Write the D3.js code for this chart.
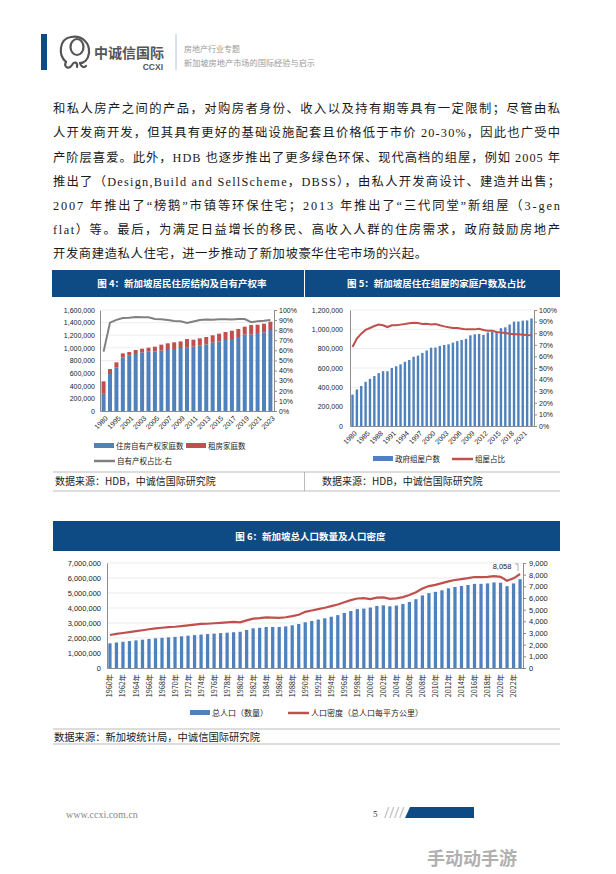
<!DOCTYPE html>
<html><head><meta charset="utf-8">
<script src="https://cdn.jsdelivr.net/npm/d3@7"></script>
<style>
html,body{margin:0;padding:0;background:#fff;}
svg{display:block;}
</style></head><body>
<svg id="page" width="616" height="874"></svg>
<script>
// ---------------- DATA ----------------
const bodyLines = [
  "和私人房产之间的产品，对购房者身份、收入以及持有期等具有一定限制；尽管由私",
  "人开发商开发，但其具有更好的基础设施配套且价格低于市价 20-30%，因此也广受中",
  "产阶层喜爱。此外，HDB 也逐步推出了更多绿色环保、现代高档的组屋，例如 2005 年",
  "推出了（Design,Build and SellScheme，DBSS），由私人开发商设计、建造并出售；",
  "2007 年推出了“榜鹅”市镇等环保住宅；2013 年推出了“三代同堂”新组屋（3-gen",
  "flat）等。最后，为满足日益增长的移民、高收入人群的住房需求，政府鼓励房地产",
  "开发商建造私人住宅，进一步推动了新加坡豪华住宅市场的兴起。"
];
const titles = ["图 4：新加坡居民住房结构及自有产权率", "图 5：新加坡居住在组屋的家庭户数及占比", "图 6：新加坡总人口数量及人口密度"];
const sources = ["数据来源：HDB，中诚信国际研究院", "数据来源：HDB，中诚信国际研究院", "数据来源：新加坡统计局，中诚信国际研究院"];

// Figure 4
const cat4 = ["1980","1990","1995","2000","2001","2002","2003","2004","2005","2006","2007","2008","2009","2010","2011","2012","2013","2014","2015","2016","2017","2018","2019","2020","2021","2022","2023"];
const owner4 = [272000,586000,686000,845000,876000,903000,929000,940000,945000,956000,966000,982000,998000,1003000,1019000,1035000,1056000,1082000,1103000,1125000,1140000,1172000,1209000,1209000,1236000,1246000,1283000];
const renter4 = [198000,79000,85000,68000,58000,63000,58000,63000,74000,95000,106000,106000,105000,137000,111000,116000,116000,117000,122000,126000,132000,127000,127000,153000,131000,137000,132000];
const ownRate4 = [58.8,87.5,90.2,92.0,92.3,93.1,92.8,92.8,91.1,90.9,90.1,89.1,88.8,87.2,88.6,90.1,90.5,90.3,90.8,90.9,90.7,91.0,91.0,87.9,88.9,89.3,90.0];
const ticksL4 = [0,200000,400000,600000,800000,1000000,1200000,1400000,1600000];
const ticksPct = [0,10,20,30,40,50,60,70,80,90,100];
const legend4 = ["住房自有产权家庭数","租房家庭数","自有产权占比-右"];

// Figure 5
const cat5 = ["1980","1982","1984","1985","1986","1987","1988","1989","1990","1991","1992","1993","1994","1995","1996","1997","1998","1999","2000","2001","2002","2003","2004","2005","2006","2007","2008","2009","2010","2011","2012","2013","2014","2015","2016","2017","2018","2019","2020","2021","2022","2023"];
const hdb5 = [325000,378000,414000,457000,488000,517000,547000,567000,567000,600000,618000,638000,664000,683000,716000,728000,756000,781000,810000,812000,828000,838000,845000,862000,878000,890000,902000,938000,949000,952000,943000,967000,974000,974000,1012000,1021000,1050000,1080000,1081000,1090000,1092000,1112000];
const share5 = [68.1,75.3,79.6,82.8,84.5,86.2,87.4,86.8,85.3,86.8,86.8,87.4,87.9,88.5,89.1,88.8,87.9,88.2,87.6,87.9,86.8,85.9,85.1,84.5,84.5,83.9,83.3,83.3,83.3,83.9,82.8,82.2,82.2,81.0,80.5,80.2,79.6,79.0,79.0,78.7,78.4,78.2];
const ticksL5 = [0,200000,400000,600000,800000,1000000,1200000];
const legend5 = ["政府组屋户数","组屋占比"];

// Figure 6
const years6 = [1960,1961,1962,1963,1964,1965,1966,1967,1968,1969,1970,1971,1972,1973,1974,1975,1976,1977,1978,1979,1980,1981,1982,1983,1984,1985,1986,1987,1988,1989,1990,1991,1992,1993,1994,1995,1996,1997,1998,1999,2000,2001,2002,2003,2004,2005,2006,2007,2008,2009,2010,2011,2012,2013,2014,2015,2016,2017,2018,2019,2020,2021,2022,2023];
const pop6 = [1646400,1702400,1750200,1795000,1841600,1886900,1934400,1977600,2012000,2042500,2074507,2112900,2152400,2193000,2229800,2262600,2293300,2325300,2353600,2383500,2413945,2532835,2646466,2681061,2732221,2735957,2733373,2774789,2846108,2930901,3047132,3135083,3230698,3313471,3419048,3524506,3670704,3796038,3927213,3958723,4027887,4138012,4175950,4114826,4166664,4265762,4401365,4588599,4839396,4987573,5076732,5183688,5312437,5399162,5469724,5535002,5607283,5612253,5638676,5703569,5685807,5453566,5637022,5917648];
const density6 = [2826,2921,3003,3080,3160,3238,3319,3393,3452,3504,3538,3597,3660,3722,3775,3791,3834,3876,3916,3945,3907,4078,4235,4273,4333,4317,4296,4350,4446,4561,4814,4926,5044,5166,5308,5443,5642,5816,5957,5983,5900,6027,6055,5931,5967,6079,6255,6496,6814,7022,7126,7273,7422,7540,7615,7697,7797,7796,7804,7866,7810,7485,7688,8058];
const tickYears6 = [1960,1962,1964,1966,1968,1970,1972,1974,1976,1978,1980,1982,1984,1986,1988,1990,1992,1994,1996,1998,2000,2002,2004,2006,2008,2010,2012,2014,2016,2018,2020,2022];
const ticksL6 = [0,1000000,2000000,3000000,4000000,5000000,6000000,7000000];
const ticksR6 = [0,1000,2000,3000,4000,5000,6000,7000,8000,9000];
const legend6 = ["总人口（数量）","人口密度（总人口每平方公里）"];

// ---------------- STYLE ----------------
const CJK = "'Noto Sans CJK SC','Noto Sans',sans-serif";
const NUM = "'Liberation Sans',Arial,sans-serif";
const BLUE = "#4f81bd", RED = "#c0504d", GRAY = "#808080", NAVY = "#0e4a84";
const svg = d3.select("#page");

// ---------------- PAGE HEADER ----------------
svg.append("rect").attr("x",41).attr("y",34).attr("width",6).attr("height",36).attr("fill",NAVY);
const logo = svg.append("g").attr("fill","none").attr("stroke","#555").attr("stroke-width",2.2).attr("stroke-linecap","round");
logo.append("path").attr("d","M66,62 C58,55 59,39 71,37 C82,35 90,43 89,53 C88,60 84,63 80,63");
logo.append("ellipse").attr("cx",77).attr("cy",47).attr("rx",6.5).attr("ry",8);
logo.append("path").attr("d","M66,62 C63,67 69,70 72,65 C74,61 78,62 77,67 M80,63 C81,67 84,68 86,66");
svg.append("text").attr("x",94).attr("y",58).attr("font-family",CJK).attr("font-weight",700).attr("font-size",14).attr("fill","#555").text("中诚信国际");
svg.append("text").attr("x",163).attr("y",69.5).attr("text-anchor","end").attr("font-family",NUM).attr("font-weight",700).attr("font-size",8.5).attr("fill","#555").text("CCXI");
svg.append("line").attr("x1",176).attr("x2",176).attr("y1",34).attr("y2",70).attr("stroke","#8fb2d8").attr("stroke-width",0.8);
svg.append("text").attr("x",184).attr("y",52).attr("font-family",CJK).attr("font-size",8).attr("fill","#9a9a9a").text("房地产行业专题");
svg.append("text").attr("x",184).attr("y",66).attr("font-family",CJK).attr("font-size",8.2).attr("fill","#9a9a9a").text("新加坡房地产市场的国际经验与启示");

// ---------------- BODY TEXT ----------------
const bodyY = [113,137,161.5,186,210,233.5,257.5];
bodyLines.forEach((s,i)=>{
  const t = svg.append("text").attr("x",53).attr("y",bodyY[i])
    .attr("font-family","'Liberation Serif','Noto Sans CJK SC',serif").attr("font-size",12.3).attr("fill","#1a1a1a")
    .attr("lengthAdjust","spacing").text(s);
  t.attr("textLength", i<6 ? 507 : 374);
});

// ---------------- helpers ----------------
function titleBar(x,y,w,h,txt){
  svg.append("rect").attr("x",x).attr("y",y).attr("width",w).attr("height",h).attr("fill",NAVY);
  svg.append("text").attr("x",x+w/2+4).attr("y",y+h/2+3.5).attr("text-anchor","middle")
    .attr("font-family",CJK).attr("font-weight",700).attr("font-size",9.5).attr("fill","#fff").text(txt);
}
function styleAxis(g,fs){
  g.select(".domain").attr("stroke","#8c8c8c");
  g.selectAll(".tick line").attr("stroke","#8c8c8c");
  g.selectAll("text").attr("font-family",NUM).attr("font-size",fs).attr("fill","#222");
}
function legendRect(x,y,color,label,fs){
  svg.append("rect").attr("x",x).attr("y",y-3).attr("width",20).attr("height",5).attr("fill",color);
  svg.append("text").attr("x",x+22).attr("y",y+3).attr("font-family",CJK).attr("font-size",fs).attr("fill","#222").text(label);
}
function legendLine(x,y,color,label,fs){
  svg.append("line").attr("x1",x).attr("x2",x+21).attr("y1",y).attr("y2",y).attr("stroke",color).attr("stroke-width",2.5);
  svg.append("text").attr("x",x+23).attr("y",y+3).attr("font-family",CJK).attr("font-size",fs).attr("fill","#222").text(label);
}

// ---------------- FIGURE 4 ----------------
titleBar(52,270,252,27,titles[0]);
titleBar(305,270,255,27,titles[1]);
{
  const L=100,R=274,T=310,B=411;
  const x = d3.scaleBand().domain(cat4).range([L,R]).paddingInner(0.38).paddingOuter(0.25);
  const y = d3.scaleLinear().domain([0,1600000]).range([B,T]);
  const yr = d3.scaleLinear().domain([0,100]).range([B,T]);
  svg.append("g").selectAll("line").data(ticksL4.slice(1)).join("line")
    .attr("x1",L).attr("x2",R).attr("y1",d=>y(d)).attr("y2",d=>y(d)).attr("stroke","#e6e6e6").attr("stroke-width",0.7);
  const g = svg.append("g");
  g.selectAll(".o").data(cat4).join("rect").attr("x",d=>x(d)).attr("width",x.bandwidth())
    .attr("y",(d,i)=>y(owner4[i])).attr("height",(d,i)=>B-y(owner4[i])).attr("fill",BLUE);
  g.selectAll(".r").data(cat4).join("rect").attr("x",d=>x(d)).attr("width",x.bandwidth())
    .attr("y",(d,i)=>y(owner4[i]+renter4[i])).attr("height",(d,i)=>y(owner4[i])-y(owner4[i]+renter4[i])).attr("fill",RED);
  const line = d3.line().x((d,i)=>x(cat4[i])+x.bandwidth()/2).y(d=>yr(d));
  svg.append("path").datum(ownRate4).attr("d",line).attr("fill","none").attr("stroke",GRAY).attr("stroke-width",2);
  const ga = svg.append("g").attr("transform",`translate(${L},0)`).call(d3.axisLeft(y).tickValues(ticksL4).tickFormat(d3.format(",")).tickSize(0).tickPadding(5));
  styleAxis(ga,7);
  const gr = svg.append("g").attr("transform",`translate(${R},0)`).call(d3.axisRight(yr).tickValues(ticksPct).tickFormat(d=>d+"%").tickSize(3).tickSizeOuter(0).tickPadding(2));
  styleAxis(gr,7);
  const gb = svg.append("g").attr("transform",`translate(0,${B})`).call(d3.axisBottom(x).tickValues(cat4.filter((d,i)=>i%2===0)).tickSize(0).tickSizeOuter(0));
  styleAxis(gb,7);
  gb.selectAll("text").attr("x",0).attr("y",0).attr("dy","0.35em").attr("text-anchor","end").attr("transform","translate(3,6) rotate(-45)");
  legendRect(94,446,BLUE,legend4[0],7.5);
  legendRect(186,446,RED,legend4[1],7.5);
  legendLine(94,461,GRAY,legend4[2],7.5);
}

// ---------------- FIGURE 5 ----------------
{
  const L=350,R=534,T=310,B=426;
  const x = d3.scaleBand().domain(cat5).range([L,R]).paddingInner(0.45).paddingOuter(0.3);
  const y = d3.scaleLinear().domain([0,1200000]).range([B,T]);
  const yr = d3.scaleLinear().domain([0,100]).range([B,T]);
  svg.append("g").selectAll("line").data(ticksL5.slice(1)).join("line")
    .attr("x1",L).attr("x2",R).attr("y1",d=>y(d)).attr("y2",d=>y(d)).attr("stroke","#e6e6e6").attr("stroke-width",0.7);
  svg.append("g").selectAll("rect").data(cat5).join("rect").attr("x",d=>x(d)).attr("width",x.bandwidth())
    .attr("y",(d,i)=>y(hdb5[i])).attr("height",(d,i)=>B-y(hdb5[i])).attr("fill",BLUE);
  const line = d3.line().x((d,i)=>x(cat5[i])+x.bandwidth()/2).y(d=>yr(d));
  svg.append("path").datum(share5).attr("d",line).attr("fill","none").attr("stroke",RED).attr("stroke-width",2);
  const ga = svg.append("g").attr("transform",`translate(${L},0)`).call(d3.axisLeft(y).tickValues(ticksL5).tickFormat(d3.format(",")).tickSize(0).tickPadding(7));
  styleAxis(ga,7);
  const gr = svg.append("g").attr("transform",`translate(${R},0)`).call(d3.axisRight(yr).tickValues(ticksPct).tickFormat(d=>d+"%").tickSize(3).tickSizeOuter(0).tickPadding(2));
  styleAxis(gr,7);
  const gb = svg.append("g").attr("transform",`translate(0,${B})`).call(d3.axisBottom(x).tickValues(cat5.filter((d,i)=>i%3===0)).tickSize(0).tickSizeOuter(0));
  styleAxis(gb,7);
  gb.selectAll("text").attr("x",0).attr("y",0).attr("dy","0.35em").attr("text-anchor","end").attr("transform","translate(3,6) rotate(-45)");
  legendRect(373,459,BLUE,legend5[0],7.5);
  legendLine(452,459,RED,legend5[1],7.5);
}

// source row for 4/5
svg.append("line").attr("x1",53).attr("x2",560).attr("y1",472).attr("y2",472).attr("stroke","#aaa").attr("stroke-width",0.8);
svg.append("line").attr("x1",53).attr("x2",560).attr("y1",491).attr("y2",491).attr("stroke","#aaa").attr("stroke-width",0.8);
svg.append("line").attr("x1",304.5).attr("x2",304.5).attr("y1",472).attr("y2",491).attr("stroke","#aaa").attr("stroke-width",0.8);
svg.append("text").attr("x",55).attr("y",485).attr("font-family",CJK).attr("font-size",10).attr("fill","#222").text(sources[0]);
svg.append("text").attr("x",322).attr("y",485).attr("font-family",CJK).attr("font-size",10).attr("fill","#222").text(sources[1]);

// ---------------- FIGURE 6 ----------------
titleBar(53,521,507,30,titles[2]);
{
  const L=107,R=523,T=563,B=668;
  const x = d3.scaleBand().domain(years6).range([L,R]).paddingInner(0.5).paddingOuter(0.2);
  const y = d3.scaleLinear().domain([0,7000000]).range([B,T]);
  const yr = d3.scaleLinear().domain([0,9000]).range([B,T]);
  svg.append("g").selectAll("line").data(ticksL6.slice(1)).join("line")
    .attr("x1",L).attr("x2",R).attr("y1",d=>y(d)).attr("y2",d=>y(d)).attr("stroke","#e3e3e3").attr("stroke-width",0.7);
  svg.append("g").selectAll("rect").data(years6).join("rect").attr("x",d=>x(d)).attr("width",x.bandwidth())
    .attr("y",(d,i)=>y(pop6[i])).attr("height",(d,i)=>B-y(pop6[i])).attr("fill",BLUE);
  const line = d3.line().x((d,i)=>x(years6[i])+x.bandwidth()/2).y(d=>yr(d));
  svg.append("path").datum(density6).attr("d",line).attr("fill","none").attr("stroke",RED).attr("stroke-width",2.2);
  const ga = svg.append("g").attr("transform",`translate(${L},0)`).call(d3.axisLeft(y).tickValues(ticksL6).tickFormat(d3.format(",")).tickSize(0).tickPadding(6));
  styleAxis(ga,7.5);
  const gr = svg.append("g").attr("transform",`translate(${R},0)`).call(d3.axisRight(yr).tickValues(ticksR6).tickFormat(d3.format(",")).tickSize(3).tickSizeOuter(0).tickPadding(3));
  styleAxis(gr,7.5);
  const gb = svg.append("g").attr("transform",`translate(0,${B})`).call(d3.axisBottom(x).tickValues(tickYears6).tickFormat(d=>d+"年").tickSize(0).tickSizeOuter(0));
  styleAxis(gb,7.2);
  gb.selectAll("text").attr("x",0).attr("y",0).attr("dy","0.35em").attr("text-anchor","end").attr("transform","translate(0,6) rotate(-90)").attr("font-family",CJK);
  // annotation of last density value
  const li = density6.length-1;
  const lx = x(years6[li])+x.bandwidth()/2, ly = yr(density6[li]);
  svg.append("text").attr("x",lx-18).attr("y",ly-5).attr("text-anchor","middle").attr("font-family",NUM).attr("font-size",7.5).attr("fill","#222").text(d3.format(",")(density6[li]));
  svg.append("path").attr("d",`M${lx-5},${ly-10} H${lx-2} V${ly-3}`).attr("fill","none").attr("stroke","#888").attr("stroke-width",0.7);
  legendRect(190,713,BLUE,legend6[0],8);
  legendLine(288,713,RED,legend6[1],8);
}
svg.append("line").attr("x1",53).attr("x2",560).attr("y1",729).attr("y2",729).attr("stroke","#aaa").attr("stroke-width",0.8);
svg.append("line").attr("x1",53).attr("x2",560).attr("y1",744).attr("y2",744).attr("stroke","#aaa").attr("stroke-width",0.8);
svg.append("text").attr("x",54).attr("y",741).attr("font-family",CJK).attr("font-size",10.3).attr("fill","#222").text(sources[2]);

// ---------------- FOOTER ----------------
svg.append("text").attr("x",66).attr("y",818).attr("font-family","'Liberation Serif',serif").attr("font-size",10).attr("fill","#888").text("www.ccxi.com.cn");
svg.append("text").attr("x",373).attr("y",817).attr("font-family","'Liberation Serif',serif").attr("font-size",9).attr("fill","#333").text("5");
[0,1,2,3].forEach(k=>{
  const x0 = 384 + k*5;
  svg.append("path").attr("d",`M${x0},818 L${x0+4},807 L${x0+5.5},807 L${x0+1.5},818 Z`).attr("fill","#c8c8c8");
});
svg.append("path").attr("d","M405,818 L410,807 L474,807 L474,818 Z").attr("fill",NAVY);
svg.append("text").attr("x",517).attr("y",865).attr("text-anchor","end").attr("font-family",CJK).attr("font-weight",700).attr("font-size",18).attr("fill","#b0b0b0").text("手动动手游");
</script>
</body></html>
